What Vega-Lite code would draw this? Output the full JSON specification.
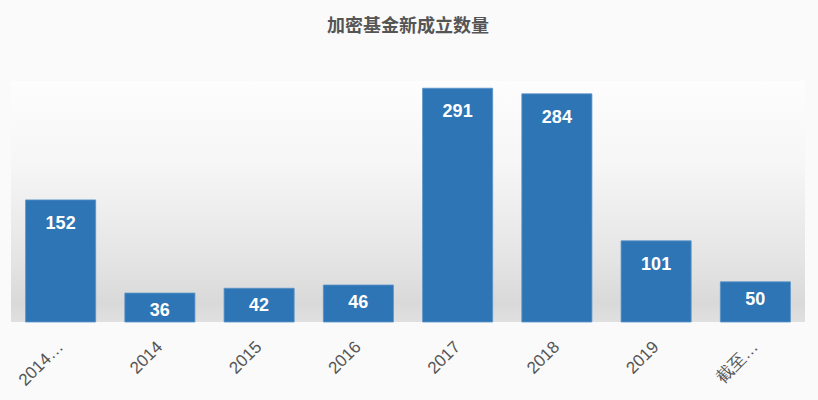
{
  "$schema": "https://vega.github.io/schema/vega-lite/v6.json",
  "description": "加密基金新成立数量",
  "autosize": "none",
  "width": 794,
  "height": 241,
  "padding": {"left": 11, "top": 81, "right": 13, "bottom": 78},
  "background": "#fafafa",
  "title": {
    "text": "加密基金新成立数量",
    "font": "Noto Sans CJK SC",
    "fontSize": 18,
    "fontWeight": "bold",
    "color": "#555555",
    "anchor": "middle",
    "offset": 45
  },
  "config": {
    "view": {
      "stroke": null,
      "fill": {
        "gradient": "linear",
        "x1": 0, "y1": 0, "x2": 0, "y2": 1,
        "stops": [
          {"offset": 0, "color": "#fdfdfd"},
          {"offset": 0.35, "color": "#f6f6f6"},
          {"offset": 0.75, "color": "#e4e4e4"},
          {"offset": 0.92, "color": "#d9d9d9"},
          {"offset": 1, "color": "#e0e0e0"}
        ]
      }
    }
  },
  "data": {
    "values": [
      {"period": "2014…", "count": 152},
      {"period": "2014", "count": 36},
      {"period": "2015", "count": 42},
      {"period": "2016", "count": 46},
      {"period": "2017", "count": 291},
      {"period": "2018", "count": 284},
      {"period": "2019", "count": 101},
      {"period": "截至…", "count": 50}
    ]
  },
  "encoding": {
    "x": {
      "field": "period",
      "type": "nominal",
      "sort": null,
      "title": null,
      "scale": {"paddingInner": 0.294, "paddingOuter": 0.147},
      "axis": {
        "labelAngle": -45,
        "labelAlign": "right",
        "labelBaseline": "middle",
        "labelFont": "Liberation Sans",
        "labelFontSize": 17,
        "labelColor": "#555555",
        "labelPadding": 22,
        "domain": false,
        "ticks": false,
        "grid": false
      }
    },
    "y": {
      "field": "count",
      "type": "quantitative",
      "scale": {"domain": [0, 300]},
      "axis": null
    }
  },
  "layer": [
    {
      "mark": {"type": "bar", "color": "#2e75b6", "stroke": "#5b93c7", "strokeWidth": 0.8}
    },
    {
      "transform": [{"filter": "datum.count >= 100"}],
      "mark": {
        "type": "text",
        "baseline": "middle",
        "dy": 24,
        "color": "#ffffff",
        "font": "Liberation Sans",
        "fontSize": 18,
        "fontWeight": "bold"
      },
      "encoding": {"text": {"field": "count", "type": "quantitative"}}
    },
    {
      "transform": [{"filter": "datum.count < 100"}],
      "mark": {
        "type": "text",
        "baseline": "middle",
        "dy": 18,
        "color": "#ffffff",
        "font": "Liberation Sans",
        "fontSize": 18,
        "fontWeight": "bold"
      },
      "encoding": {"text": {"field": "count", "type": "quantitative"}}
    }
  ]
}
